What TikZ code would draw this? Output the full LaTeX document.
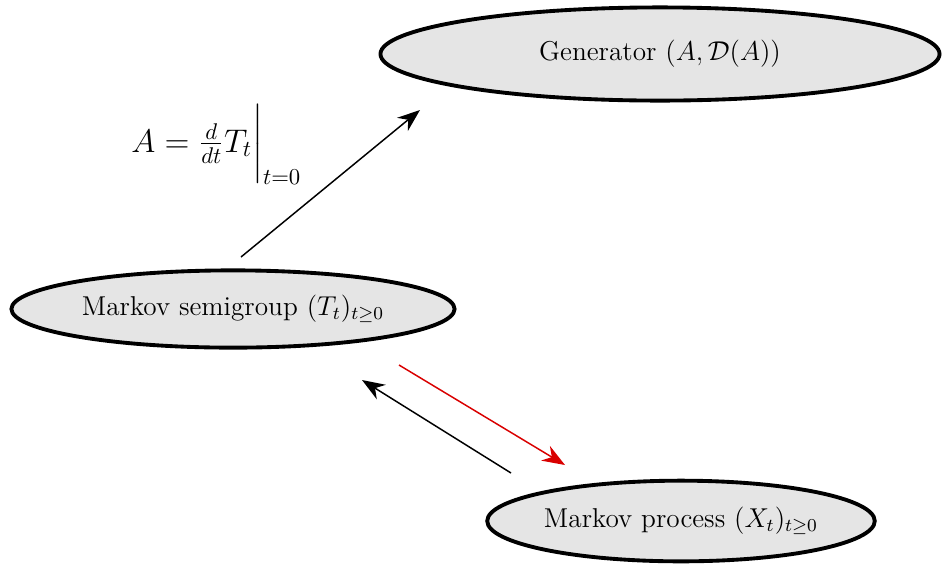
\documentclass[tikz,border=0pt]{standalone}
\usepackage{amsmath}
\usetikzlibrary{shapes.geometric,arrows.meta}
\begin{document}
\begin{tikzpicture}[x=0.44pt,y=-0.44pt,
  state/.style={ellipse,draw=black,line width=1.7pt,fill=black!10,inner sep=0pt,font=\large},
  conn/.style={line width=0.65pt,-{Stealth[length=10pt,width=7.5pt]}}]
\useasboundingbox (0,0) rectangle (943,568);
\node[state,minimum width=246pt,minimum height=41pt] (gen) at (660,54) {Generator $(A,\mathcal{D}(A))$};
\node[state,minimum width=195pt,minimum height=34pt] (semi) at (233,309) {Markov semigroup $(T_t)_{t\geq0}$};
\node[state,minimum width=170pt,minimum height=35.5pt] (proc) at (681,521) {Markov process $(X_t)_{t\geq0}$};
\coordinate (a1) at (241,257);
\coordinate (a2) at (420,110);
\coordinate (b1) at (511,473);
\coordinate (b2) at (362,380);
\coordinate (c1) at (399,365);
\coordinate (c2) at (565,465);
\draw[conn] (a1) -- (a2);
\draw[conn] (b1) -- (b2);
\draw[conn,red!85!black] (c1) -- (c2);
\node[anchor=base west,font=\Large,inner sep=0pt] (lab) at (131,152) {$A=\frac{d}{dt}T_t\bigg|_{t=0}$};
\end{tikzpicture}
\end{document}
